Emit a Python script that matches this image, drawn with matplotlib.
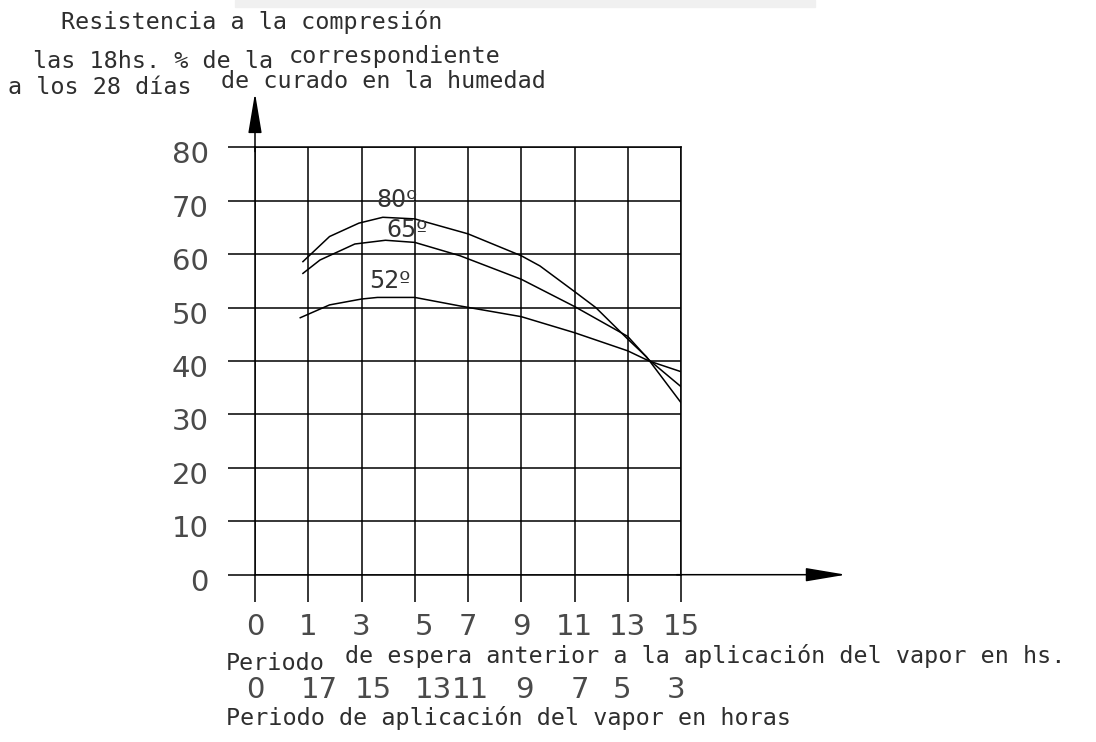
import numpy as np
import matplotlib
matplotlib.use("Agg")
import matplotlib.pyplot as plt
import matplotlib.transforms as mtransforms
from matplotlib.patches import Rectangle

# horas de espera marcadas en el eje (no equiespaciadas en el dibujo)
wait_ticks = [0, 1, 3, 5, 7, 9, 11, 13, 15]
wait_labels = ["0", "1", "3", "5", "7", "9", "11", "13", "15"]
steam_labels = ["0", "17", "15", "13", "11", "9", "7", "5", "3"]
steam_pos = [0, 1.4, 3.45, 5.7, 7.1, 9.1, 11.2, 12.8, 14.8]
y_ticks = [0, 10, 20, 30, 40, 50, 60, 70, 80]

# curvas (horas de espera, % de resistencia)
h80 = [0.9, 1.8, 2.9, 3.8, 5, 7, 9, 9.7, 11, 11.8, 13, 13.7, 15]
v80 = [58.6, 63.3, 65.8, 66.9, 66.6, 63.8, 59.7, 57.8, 53, 50, 44.1, 40.8, 32.2]
h65 = [0.9, 1.44, 2.75, 3.9, 5, 6.7, 9, 11, 13, 13.8, 15]
v65 = [56.4, 58.9, 61.9, 62.6, 62.2, 59.7, 55.3, 50.2, 44.6, 40.2, 35.2]
h52 = [0.85, 1.8, 3, 3.6, 5, 6.7, 9, 11, 13, 13.8, 15]
v52 = [48.1, 50.5, 51.6, 51.9, 51.9, 50.3, 48.3, 45.3, 41.9, 40, 38]

W, H = 1096, 742
fig = plt.figure(figsize=(W / 100, H / 100), dpi=100)
ax = fig.add_axes([255 / W, 1 - 574.7 / H, (681 - 255) / W, (574.7 - 147.3) / H])

idx = np.arange(len(wait_ticks))


def fwd(x):
    return np.interp(x, wait_ticks, idx)


def inv(x):
    return np.interp(x, idx, wait_ticks)


ax.set_xscale("function", functions=(fwd, inv))
ax.set_xlim(0, 15)
ax.set_ylim(0, 80)

num_font = dict(family="DejaVu Sans", size=21, color="#4a4a4a")
txt_font = dict(family="DejaVu Sans Mono", size=16.8, color="#2e2e2e")

ax.set_xticks(wait_ticks)
ax.set_xticklabels(wait_labels, **num_font)
ax.set_yticks(y_ticks)
ax.set_yticklabels([str(v) for v in y_ticks], **num_font)
ax.tick_params(axis="both", direction="out", length=19.4, width=1.1, color="black")
ax.tick_params(axis="x", pad=8)
ax.tick_params(axis="y", pad=14)
ax.grid(True, color="black", linewidth=1.1)
for s in ax.spines.values():
    s.set_linewidth(1.1)

# las cifras del eje vertical quedan algo por debajo de cada linea
down = mtransforms.ScaledTranslation(0, -5 / 100, fig.dpi_scale_trans)
for lbl in ax.get_yticklabels():
    lbl.set_transform(lbl.get_transform() + down)
xl = ax.get_xticklabels()
xl[3].set_transform(xl[3].get_transform() +
                    mtransforms.ScaledTranslation(9 / 100, 0, fig.dpi_scale_trans))

ax.plot(h80, v80, color="black", lw=1.1)
ax.plot(h65, v65, color="black", lw=1.1)
ax.plot(h52, v52, color="black", lw=1.1)

lab_font = dict(family="DejaVu Sans", size=17, color="#333333", ha="center", va="center")
ax.text(4.33, 70.2, "80º", **lab_font)
ax.text(4.7, 64.5, "65º", **lab_font)
ax.text(4.08, 54.9, "52º", **lab_font)

# flechas de los ejes
arrow = dict(arrowstyle="-|>,head_length=2.5,head_width=0.42", color="black",
             lw=1.1, mutation_scale=10, shrinkA=0, shrinkB=0)
ax.annotate("", xy=(0, 1.127), xytext=(0, 0.99), xycoords="axes fraction",
            arrowprops=arrow, annotation_clip=False)
ax.annotate("", xy=(1.387, 0), xytext=(0.99, 0), xycoords="axes fraction",
            arrowprops=arrow, annotation_clip=False)

# segunda escala de horas bajo el eje
tr = mtransforms.blended_transform_factory(ax.transData, fig.transFigure)
for p, lab in zip(steam_pos, steam_labels):
    ax.text(p, 1 - 690 / H, lab, transform=tr, ha="center", va="center",
            clip_on=False, **num_font)


def ftext(x, y, s, **kw):
    fig.text(x / W, 1 - y / H, s, ha="left", va="center", **txt_font, **kw)


ftext(61, 22, "Resistencia a la compresión")
ftext(33, 62, "las 18hs. % de la")
ftext(289, 56, "correspondiente")
ftext(8, 88, "a los 28 días")
ftext(221, 82, "de curado en la humedad")
ftext(226, 663, "Periodo")
ftext(345, 656, "de espera anterior a la aplicación del vapor en hs.")
ftext(226, 718, "Periodo de aplicación del vapor en horas")

fig.patches.append(Rectangle((235 / W, 1 - 7 / H), 580 / W, 7 / H,
                             transform=fig.transFigure, color="#f0f0f0", zorder=0))

fig.savefig("out.png", dpi=100)
